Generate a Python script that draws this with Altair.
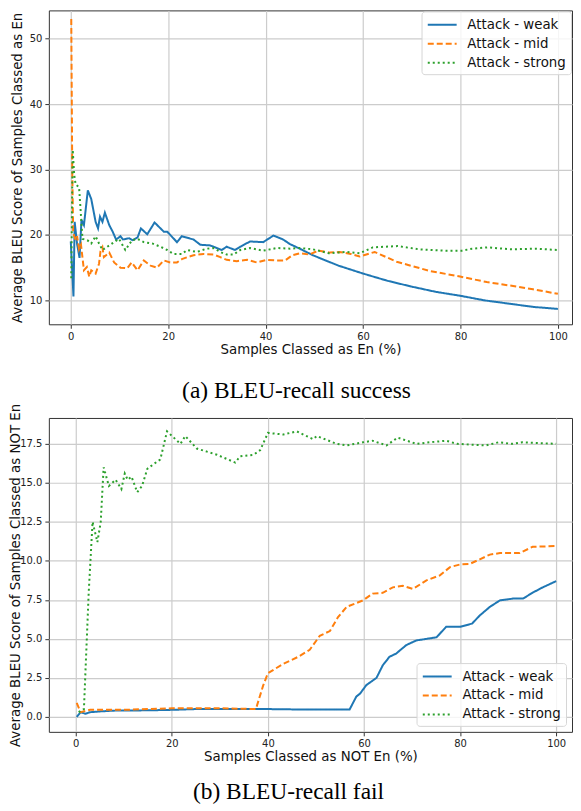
import altair as alt
import pandas as pd

names = ["Attack - weak", "Attack - mid", "Attack - strong"]
colors = ["#1f77b4", "#ff7f0e", "#2ca02c"]
dashes = [[1, 0], [6, 3], [2, 3]]

# ---- panel (a): BLEU-recall success ----
a_weak_x = [0.0, 0.55, 0.8, 1.3, 1.8, 2.2, 2.7, 3.5, 4.2, 5.1, 5.6, 6.0, 6.5, 7.0, 7.9, 8.6, 9.3, 10.2, 10.7, 12.0,
            12.7, 13.7, 14.4, 15.7, 17.2, 19.1, 19.8, 21.8, 22.8, 25.2, 26.6, 28.6, 31.0, 32.0, 33.7, 34.8, 36.8,
            39.5, 41.6, 43.6, 45.0, 47.0, 49.7, 52, 55, 60, 65, 70, 75, 80, 85, 90, 95, 100]
a_weak_y = [19, 10.6, 22, 18.6, 16.5, 22.3, 21.5, 26.8, 25.5, 22, 21.0, 22.8, 22, 23.4, 21.5, 20.5, 19.3, 19.8, 19.3,
            19.5, 19.2, 19.6, 21, 20.1, 21.9, 20.5, 20.5, 18.9, 19.8, 19.3, 18.5, 18.4, 17.7, 18.2, 17.7, 18.2, 19.0,
            18.9, 19.9, 19.3, 18.6, 17.9, 16.9, 16.2, 15.3, 14.1, 13.0, 12.1, 11.3, 10.7, 10.0, 9.5, 9.0, 8.7]

a_mid_x = [0.1, 0.3, 0.5, 1.0, 1.3, 1.7, 2.1, 2.7, 3.3, 3.8, 4.2, 5.1, 5.8, 6.1, 6.5, 6.8, 7.9, 8.9, 10.2, 11.6,
           12.5, 13.7, 15.0, 16.4, 17.7, 19.1, 20.4, 21.8, 22.8, 23.9, 25.2, 27.3, 29.3, 30.7, 32.0, 34.1, 36.2,
           38.2, 40.2, 42.3, 44.0, 45.5, 47.0, 49.0, 50.8, 53.2, 55.2, 57.5, 59.3, 62.4, 66.9, 70.3, 73.7, 79.9,
           85.4, 90.8, 94.9, 100]
a_mid_y = [53, 30, 20.3, 19.2, 19.8, 17.8, 18.5, 14.6, 15.1, 13.6, 14.6, 14.1, 15.6, 17.5, 18.1, 16.6, 17.3, 15.8,
           15.0, 14.9, 15.8, 14.6, 16.1, 15.3, 15.0, 16.1, 15.8, 15.8, 16.3, 16.6, 16.9, 17.1, 17.0, 16.6, 16.2,
           16.0, 16.2, 15.8, 16.2, 16.1, 16.1, 16.9, 17.2, 17.0, 17.6, 17.3, 17.4, 17.1, 16.7, 17.4, 15.9, 15.2,
           14.5, 13.65, 12.8, 12.2, 11.7, 11.0]

a_strong_x = [0.1, 0.3, 0.4, 0.7, 1.0, 1.7, 2.0, 2.4, 3.4, 4.2, 5.1, 5.8, 6.5, 7.5, 8.9, 9.9, 11.2, 12.6, 13.7, 15.0,
              16.7, 18.4, 19.8, 21.1, 22.8, 23.9, 25.9, 27.9, 29.3, 30.7, 32.0, 33.4, 34.8, 36.8, 39.5, 42.3, 45.0,
              47.0, 49.7, 53.0, 56.5, 59.3, 62.0, 67.1, 71.5, 77.0, 80.3, 82.4, 85.5, 90.6, 95.4, 100]
a_strong_y = [13.4, 27.5, 33, 29.2, 27.7, 27.3, 24, 19.4, 19.2, 18.7, 19.8, 18.7, 17.7, 18.2, 18.9, 19.4, 17.7, 19.2,
              19.4, 18.9, 18.7, 18.2, 17.7, 17.1, 17.1, 17.7, 17.4, 17.9, 18.0, 17.4, 17.0, 17.0, 17.7, 18.0, 17.6,
              18.0, 17.9, 18.0, 17.8, 17.2, 17.4, 17.2, 18.1, 18.3, 17.8, 17.6, 17.6, 17.9, 18.1, 17.8, 17.9, 17.7]

# ---- panel (b): BLEU-recall fail ----
b_weak_x = [0.2, 1.0, 2.0, 3.0, 5.0, 8.0, 15, 20, 25, 30, 40, 45, 50, 57.0, 58.4, 59.2, 60.5, 62.6, 63.9, 65.3, 66.7,
            68.8, 70.9, 73.0, 75.1, 77.1, 80.0, 82.5, 84.1, 86.2, 88.3, 91.0, 93.1, 95.1, 97.2, 100]
b_weak_y = [0.0, 0.3, 0.2, 0.3, 0.35, 0.4, 0.42, 0.45, 0.5, 0.5, 0.5, 0.48, 0.47, 0.47, 1.3, 1.5, 2.04, 2.5, 3.3, 3.85,
            4.06, 4.6, 4.9, 5.0, 5.1, 5.77, 5.77, 5.98, 6.5, 7.05, 7.47, 7.58, 7.58, 7.96, 8.3, 8.7]

b_mid_x = [0.2, 1.0, 3, 10, 20, 30, 37.5, 39.0, 40.0, 43.2, 46.3, 48.7, 50.8, 52.9, 54.6, 56.4, 59.8, 61.8, 63.9,
           66.0, 68.1, 70.2, 73.0, 75.8, 77.9, 80.0, 82, 84.1, 86.2, 88.3, 92.4, 95.1, 100]
b_mid_y = [0.9, 0.3, 0.45, 0.45, 0.55, 0.55, 0.5, 2.0, 2.8, 3.4, 3.85, 4.3, 5.2, 5.5, 6.4, 7.05, 7.47, 7.9, 7.95,
           8.3, 8.4, 8.2, 8.75, 9.07, 9.6, 9.77, 9.8, 10.1, 10.4, 10.5, 10.5, 10.9, 10.95]

b_strong_x = [0.6, 1.7, 2.7, 3.5, 4.5, 5.2, 5.8, 6.9, 8.3, 9.5, 10.2, 10.8, 11.6, 12.8, 13.8, 14.9, 16.2, 17.6, 19.0,
              20.4, 21.8, 22.8, 25.2, 27.3, 29.4, 33.2, 34.2, 37.0, 38.4, 40.0, 43.2, 46.0, 49.4, 50.2, 54.3, 56.4,
              59.8, 61.8, 64.7, 67.0, 70.9, 73.7, 77.1, 79.4, 85.4, 88, 90.9, 93, 100]
b_strong_y = [0.3, 0.5, 8, 12.5, 11.2, 12.5, 16, 14.8, 15.2, 14.6, 15.6, 15.2, 15.4, 14.4, 14.8, 15.9, 16.2, 16.5,
              18.3, 17.9, 17.5, 18.0, 17.2, 17.0, 16.8, 16.3, 16.7, 16.8, 17.1, 18.2, 18.1, 18.3, 17.8, 18.0, 17.5,
              17.4, 17.6, 17.7, 17.4, 17.9, 17.5, 17.6, 17.7, 17.5, 17.4, 17.6, 17.5, 17.6, 17.5]

x_ticks = [0, 20, 40, 60, 80, 100]
a_y_ticks = [10, 20, 30, 40, 50]
b_y_ticks = [0, 2.5, 5, 7.5, 10, 12.5, 15, 17.5]


def frame(series):
    rows = []
    for name, xs, ys in series:
        for i, (xv, yv) in enumerate(zip(xs, ys)):
            rows.append({"x": xv, "y": yv, "series": name, "i": i})
    return pd.DataFrame(rows)


df_a = frame([(names[0], a_weak_x, a_weak_y), (names[1], a_mid_x, a_mid_y), (names[2], a_strong_x, a_strong_y)])
df_b = frame([(names[0], b_weak_x, b_weak_y), (names[1], b_mid_x, b_mid_y), (names[2], b_strong_x, b_strong_y)])


def panel(df, xdom, ydom, yticks, yfmt, xtitle, ytitle, ytitle_x, caption, cap_dx, cap_off, legend_orient,
          leg_off, w, h):
    leg = alt.Legend(title=None, orient=legend_orient, offset=leg_off, labelFontSize=13.4, labelFont="DejaVu Sans",
                     labelColor="#111", symbolType="M-1,0H3", symbolSize=210, symbolStrokeWidth=2,
                     fillColor="rgba(255,255,255,0.8)", strokeColor="#d6d6d6", padding=5, cornerRadius=3,
                     rowPadding=4, labelOffset=24)
    return alt.Chart(df).mark_line(strokeWidth=2, clip=True).encode(
        x=alt.X("x:Q", scale=alt.Scale(domain=xdom, nice=False, zero=False),
                axis=alt.Axis(values=x_ticks, title=xtitle)),
        y=alt.Y("y:Q", scale=alt.Scale(domain=ydom, nice=False, zero=False),
                axis=alt.Axis(values=yticks, format=yfmt, title=ytitle, titleX=ytitle_x,
                              titleBaseline="middle")),
        color=alt.Color("series:N", scale=alt.Scale(domain=names, range=colors), legend=leg),
        strokeDash=alt.StrokeDash("series:N", scale=alt.Scale(domain=names, range=dashes), legend=leg),
        order="i:Q",
    ).properties(
        width=w, height=h,
        title=alt.TitleParams(caption, orient="bottom", font="Liberation Serif", fontSize=23.5,
                              fontWeight="normal", color="#000", offset=cap_off, dx=cap_dx),
    )


top = panel(df_a, [-4.5, 102.9], [6.35, 54.3], a_y_ticks, "d", "Samples Classed as En (%)",
            "Average BLEU Score of Samples Classed as En", -31, "(a) BLEU-recall success", -14, 24,
            "top-right", 1, 525, 315)
bottom = panel(df_b, [-5.6, 103.3], [-0.96, 19.16], b_y_ticks, ".1f", "Samples Classed as NOT En (%)",
               "Average BLEU Score of Samples Classed as NOT En", -33, "(b) BLEU-recall fail", -22, 17,
               "bottom-right", 6, 525, 315)

chart = alt.vconcat(top, bottom, spacing=94, bounds="flush").properties(
    padding={"left": 0, "top": 0, "right": 0, "bottom": 0}
).configure_view(stroke="#333", strokeWidth=1).configure_axis(
    labelFont="DejaVu Sans", labelFontSize=10, labelColor="#222", titleFont="DejaVu Sans", titleFontSize=13.4,
    titleFontWeight="normal", titleColor="#111", gridColor="#cccccc", gridWidth=1.2, domain=False,
    tickColor="#333", tickSize=4, labelPadding=3, titlePadding=1,
).configure_legend(symbolStrokeWidth=2)

chart.save("out.html", embed_options={"renderer": "svg", "actions": False})
